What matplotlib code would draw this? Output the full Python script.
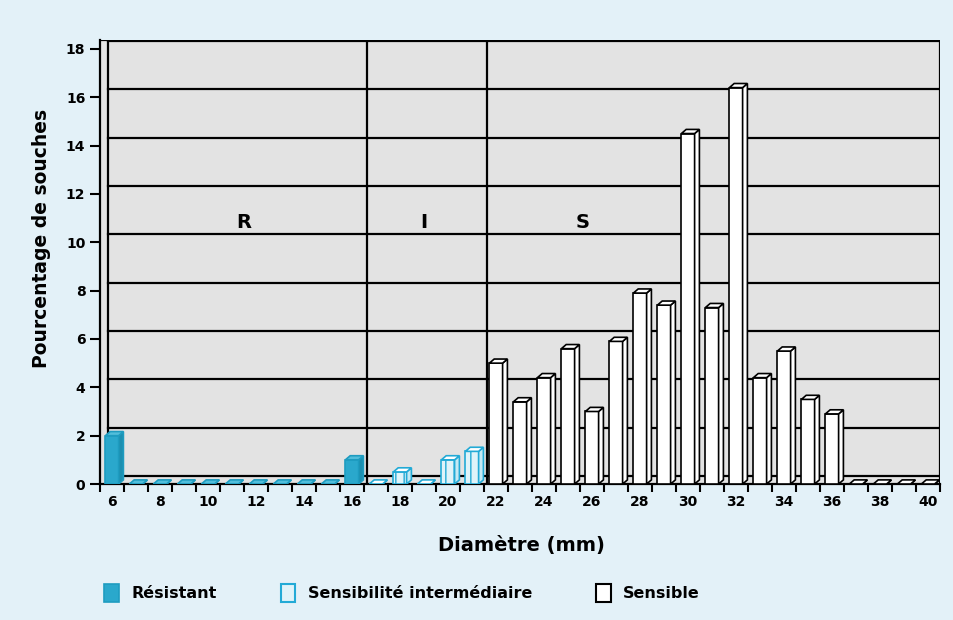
import numpy as np
import matplotlib
matplotlib.use("Agg")
import matplotlib.pyplot as plt
from matplotlib.patches import Polygon, Patch
from matplotlib.transforms import ScaledTranslation

# diameters of the inhibition zone (mm)
diameters = list(range(6, 41))

# percentage of strains per diameter, one list per category
resistant = [2.0, 0, 0, 0, 0, 0, 0, 0, 0, 0, 1.0]          # 6..16
intermediate = [0, 0.5, 0, 1.0, 1.35]                        # 17..21
sensitive = [5.0, 3.4, 4.4, 5.6, 3.0, 5.9, 7.9, 7.4, 14.5,
             7.3, 16.4, 4.4, 5.5, 3.5, 2.9, 0, 0, 0, 0]      # 22..40

series_labels = ["Résistant", "Sensibilité intermédiaire", "Sensible"]
zone_labels = ["R", "I", "S"]
zone_limits = [16.5, 21.5]

plt.rcParams['font.family'] = ['DejaVu Sans']
plt.rcParams['font.weight'] = 'bold'

fig = plt.figure(figsize=(9.54, 6.2), dpi=100)
fig.patch.set_facecolor('#e3f1f8')
ax = fig.add_axes([100 / 954, 136 / 620, 840 / 954, 444 / 620])
ax.set_facecolor('#e3e3e3')
ax.set_xlim(5.5, 40.5)
ax.set_ylim(0, 18.37)

# 3d-ish offset for the back wall
back = ScaledTranslation(0.08, 0.08, fig.dpi_scale_trans)

w = 0.55   # bar face width
dx = 0.2   # depth in x (data)
dy = 0.17  # depth in y (data)


def draw_bars(xs, vals, face, side, top, edge, hatch=None):
    bars = ax.bar(xs, vals, width=w, color=face, edgecolor=edge, linewidth=1.2,
                  hatch=hatch, zorder=3)
    for b, v in zip(bars, vals):
        x0 = b.get_x()
        x1 = x0 + b.get_width()
        ax.add_patch(Polygon([(x1, 0), (x1 + dx, dy), (x1 + dx, v + dy), (x1, v)],
                             closed=True, facecolor=side, edgecolor=edge,
                             linewidth=1.2, zorder=3))
        ax.add_patch(Polygon([(x0, v), (x1, v), (x1 + dx, v + dy), (x0 + dx, v + dy)],
                             closed=True, facecolor=top, edgecolor=edge,
                             linewidth=1.2, zorder=4))


plt.rcParams['hatch.color'] = '#29b0d8'
plt.rcParams['hatch.linewidth'] = 1.0

draw_bars(diameters[0:11], resistant, '#2aa8cc', '#1c8fb0', '#52bedb', '#1e9cc0')
draw_bars(diameters[11:16], intermediate, '#dff3f9', '#c5e9f4', '#ffffff', '#22aad6', hatch='||')
draw_bars(diameters[16:], sensitive, '#ffffff', '#ffffff', '#ffffff', 'black')

# back wall grid lines and frame
ax.set_yticks(np.arange(0, 19, 2))
ax.yaxis.grid(True, color='black', linewidth=1.6)
for gl in ax.get_ygridlines():
    gl.set_transform(gl.get_transform() + back)
ax.set_axisbelow(True)
ax.plot([0, 0], [0, 18], color='black', linewidth=1.6,
        transform=ax.get_yaxis_transform() + back, zorder=2)

# zone separators and labels
for xv in zone_limits:
    ax.axvline(xv + 0.12, color='black', linewidth=1.6, zorder=2)
for lab, xv in zip(zone_labels, [11.5, 19.0, 25.6]):
    ax.text(xv, 10.8, lab, ha='center', va='center', fontsize=14,
            fontweight='bold', zorder=5)

# ticks
ax.set_xticks(range(6, 41, 2))
ax.set_xticks(np.arange(5.5, 41, 1), minor=True)
ax.tick_params(axis='x', which='major', length=0, pad=8, labelsize=10)
ax.tick_params(axis='x', which='minor', length=6, width=1.5, direction='out')
ax.tick_params(axis='y', length=7, width=1.5, direction='out', labelsize=10)
for lbl in ax.get_xticklabels() + ax.get_yticklabels():
    lbl.set_fontweight('bold')

for s in ax.spines.values():
    s.set_linewidth(1.6)
ax.spines['top'].set_visible(False)
ax.spines['right'].set_visible(False)
ax.plot([1, 1], [0, 1], color='black', linewidth=1.6, transform=ax.transAxes, zorder=2)
ax.plot([0, 1], [1, 1], color='black', linewidth=1.6, transform=ax.transAxes, zorder=2)

fig.text(521 / 954, 1 - 546 / 620, "Diamètre (mm)", ha='center', va='center',
         fontsize=14, fontweight='bold')
fig.text(42 / 954, 1 - 238 / 620, "Pourcentage de souches", ha='center', va='center',
         rotation=90, fontsize=13.5, fontweight='bold')

handles = [Patch(facecolor='#2aa8cc', edgecolor='#1e9cc0', linewidth=1.2),
           Patch(facecolor='#dff3f9', edgecolor='#22aad6', linewidth=1.5),
           Patch(facecolor='white', edgecolor='black', linewidth=1.5)]
leg = fig.legend(handles, series_labels, loc='center left', ncol=3,
                 bbox_to_anchor=(90 / 954, 1 - 593 / 620), frameon=False,
                 handlelength=0.9, handleheight=1.3, handletextpad=0.8,
                 columnspacing=4.0, prop={'weight': 'bold', 'size': 11.5})

fig.savefig("out.png", dpi=100, facecolor=fig.get_facecolor())
